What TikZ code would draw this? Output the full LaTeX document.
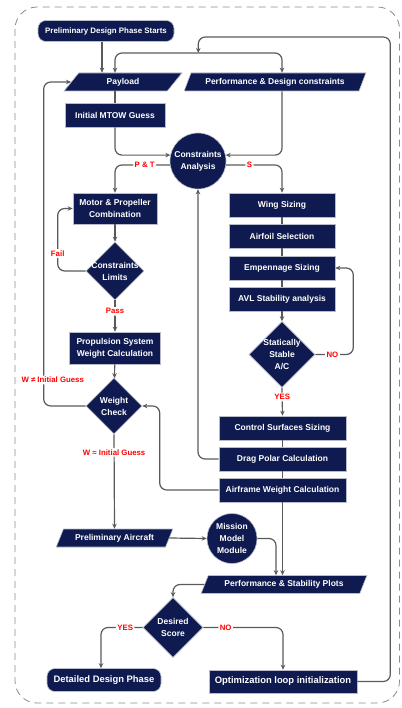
\documentclass[tikz,border=0pt]{standalone}
\usepackage{fontspec}
\setmainfont{Liberation Sans}
\usetikzlibrary{shapes.geometric,arrows.meta}
\definecolor{navy}{HTML}{0F1B50}
\definecolor{edgecol}{HTML}{B8BCC8}
\definecolor{wirecol}{HTML}{5A5A5A}
\definecolor{framecol}{HTML}{8A8A8A}
\definecolor{lblred}{HTML}{FF0000}
\tikzset{
  base/.style={draw=edgecol, line width=0.6pt, fill=navy, text=white, align=center,
    inner sep=1pt, font=\bfseries\fontsize{8.5}{12}\selectfont},
  box/.style={base, rectangle},
  term/.style={base, rectangle, rounded corners=8pt},
  io/.style={base, trapezium, trapezium left angle=60, trapezium right angle=120,
    trapezium stretches=true},
  dec/.style={base, diamond, aspect=1, inner sep=-8pt},
  hub/.style={base, circle, inner sep=0pt},
  wire/.style={draw=wirecol, line width=1.2pt, rounded corners=7pt},
  arr/.style={wire, -{Stealth[length=5pt,width=4.5pt]}},
  lbl/.style={fill=white, text=lblred, inner sep=1.5pt, font=\bfseries\fontsize{7.8}{9}\selectfont}
}
\begin{document}
\begin{tikzpicture}[x=1pt,y=-1pt]
\useasboundingbox (0,0) rectangle (401,708);
\draw[draw=framecol, line width=0.8pt, dash pattern=on 7pt off 5pt, rounded corners=22pt]
  (15,7) rectangle (399.5,703);

% left column
\node[term, minimum width=136, minimum height=21, font=\bfseries\fontsize{7.9}{10}\selectfont] (start) at (106,31) {Preliminary Design Phase Starts};
\node[io, minimum width=118, minimum height=18] (payload) at (123,82) {Payload};
\node[io, minimum width=182, minimum height=18] (perf) at (275,82) {Performance \& Design constraints};
\node[box, minimum width=100, minimum height=24] (mtow) at (115,115) {Initial MTOW Guess};
\node[hub, minimum size=56] (ca) at (198,161) {Constraints\\Analysis};
\node[box, minimum width=84, minimum height=31] (motor) at (115,208.5) {Motor \& Propeller\\Combination};
\node[dec, minimum size=58] (climits) at (115,271) {Constraints\\Limits};
\node[box, minimum width=91, minimum height=32] (prop) at (115,348) {Propulsion System\\Weight Calculation};
\node[dec, minimum size=56] (wcheck) at (114,406) {Weight\\Check};
\node[io, minimum width=117, minimum height=18] (prelim) at (114.5,538) {Preliminary Aircraft};

% right column
\node[box, minimum width=106, minimum height=24] (wing) at (282,205) {Wing Sizing};
\node[box, minimum width=106, minimum height=24] (airfoil) at (282,236) {Airfoil Selection};
\node[box, minimum width=106, minimum height=24] (empen) at (282,268) {Empennage Sizing};
\node[box, minimum width=106, minimum height=24] (avl) at (282,299) {AVL Stability analysis};
\node[dec, minimum size=66] (stable) at (282,354.5) {Statically\\Stable\\A/C};
\node[box, minimum width=127, minimum height=24] (ctrl) at (282.5,428) {Control Surfaces Sizing};
\node[box, minimum width=127, minimum height=24] (drag) at (282.5,459) {Drag Polar Calculation};
\node[box, minimum width=127, minimum height=24] (airframe) at (282.5,490) {Airframe Weight Calculation};
\node[hub, minimum size=50] (mission) at (232,538.5) {Mission\\Model\\Module};
\node[io, minimum width=166, minimum height=18] (plots) at (284,584.5) {Performance \& Stability Plots};

% bottom
\node[dec, minimum size=60] (score) at (173,627.5) {Desired\\Score};
\node[term, minimum width=114, minimum height=23, font=\bfseries\fontsize{9.4}{11}\selectfont] (detail) at (104,680) {Detailed Design Phase};
\node[box, minimum width=148, minimum height=23, font=\bfseries\fontsize{9.4}{11}\selectfont] (optim) at (283,681.5) {Optimization loop initialization};

% connectors
\draw[arr] ([xshift=-4pt]start.south) -- ([xshift=-4pt]start.south |- payload.north);
\draw[arr] (optim.east) -- ++(33,0) -- ++(0,-644.5) -- ++(-192,0) -- ++(0,16) coordinate (split);
\draw[arr] (split) -| ([xshift=-8pt]payload.north);
\draw[arr] (split) -| ([xshift=7pt]perf.north);
\draw[wire] (mtow.north |- payload.south) -- (mtow.north);
\draw[arr] (mtow.south) |- (ca.168);
\draw[arr] ([xshift=7pt]perf.south) |- (ca.12);
\draw[arr] (ca.188) -| node[lbl, pos=0.23] {P \& T} (motor.north);
\draw[arr] (ca.352) -| node[lbl, pos=0.21] {S} (wing.north);
\draw[arr] (motor) -- (climits);
\draw[arr] (climits.west) -- ++(-28,0) |- node[lbl, pos=0.14] {Fail} (motor.west);
\draw[arr] (climits.south) -- node[lbl, pos=0.35] {Pass} (prop.north);
\draw[arr] (prop) -- (wcheck);
\draw[arr] (wcheck.west) -- ++(-42,0) |- node[lbl, pos=0.04, xshift=9pt] {W ≠ Initial Guess} (payload.west);
\draw[arr] (wcheck.south) -- node[lbl, pos=0.19] {W ≈ Initial Guess} (prelim.north);
\draw[wire] (wing) -- (airfoil);
\draw[wire] (airfoil) -- (empen);
\draw[wire] (empen) -- (avl);
\draw[arr] (avl) -- (stable);
\draw[arr] (stable.east) -- node[lbl, pos=0.45] {NO} ++(38,0) |- (empen.east);
\draw[arr] (stable.south) -- node[lbl, pos=0.33] {YES} (ctrl.north);
\draw[wire] (ctrl) -- (drag);
\draw[wire] (drag) -- (airframe);
\draw[arr] (drag.west) -| (ca.south);
\draw[arr] (airframe.west) -- ++(-59,0) |- (wcheck.east);
\draw[arr] (airframe.south) -- (airframe.south |- plots.north);
\draw[arr] (prelim.east) -- (mission.west);
\draw[arr] (mission.east) -| ([xshift=-8pt]plots.north);
\draw[arr] (plots.west) -| (score.north);
\draw[arr] (score.west) -| node[lbl, pos=0.21] {YES} ([xshift=-3pt]detail.north);
\draw[arr] (score.east) -| node[lbl, pos=0.14] {NO} (optim.north);
\end{tikzpicture}
\end{document}
